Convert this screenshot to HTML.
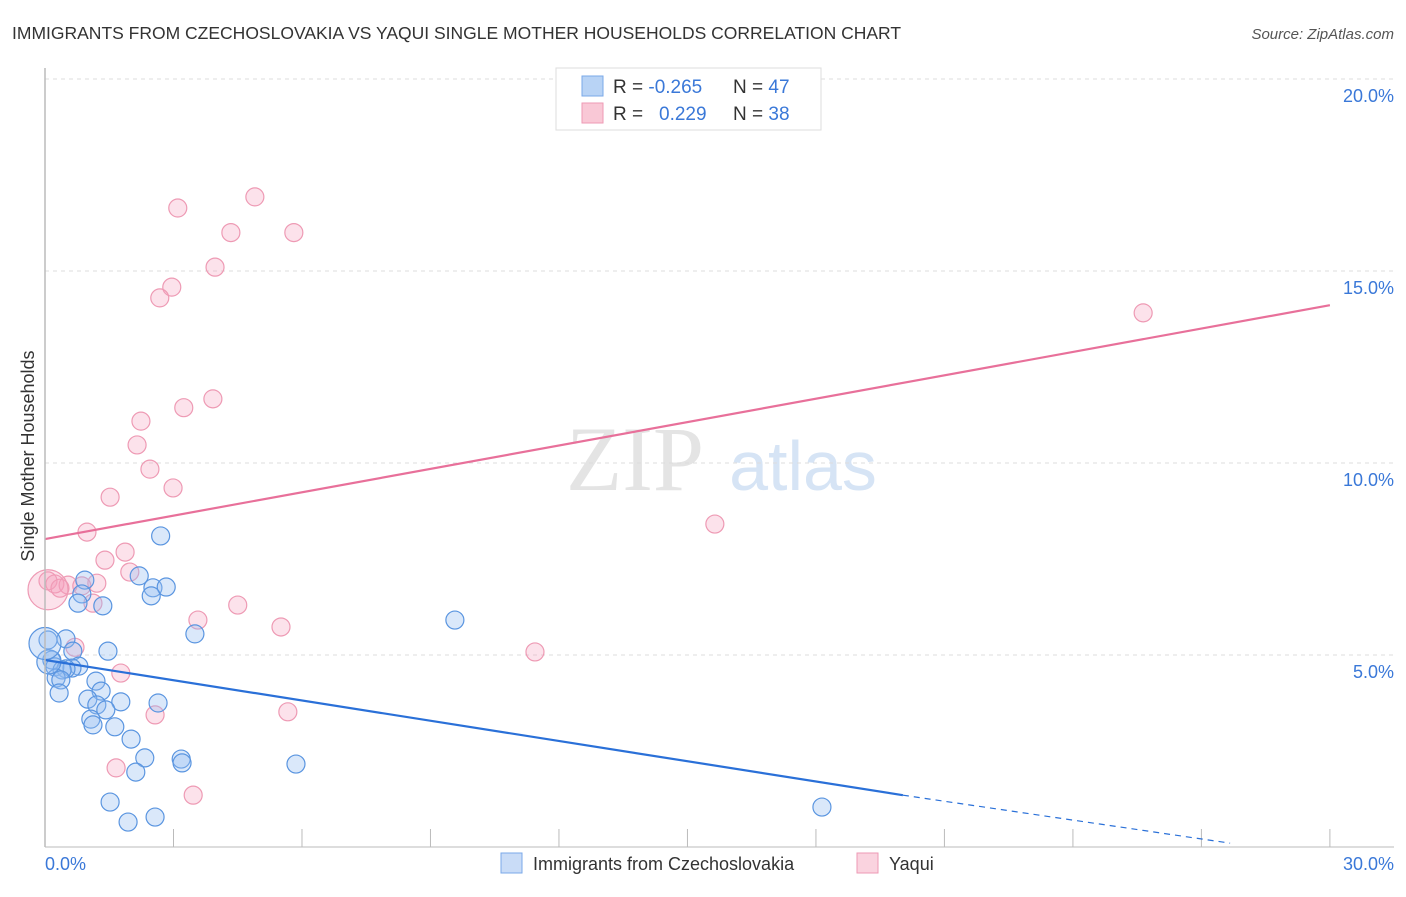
<!DOCTYPE html>
<html><head><meta charset="utf-8"><style>
body{margin:0;background:#fff;font-family:"Liberation Sans",sans-serif}
#wrap{position:relative;width:1406px;height:892px}
</style></head><body>
<div id="wrap">
<svg id="svg" width="1406" height="892">
<text x="12" y="39" font-size="17.5" fill="#333">IMMIGRANTS FROM CZECHOSLOVAKIA VS YAQUI SINGLE MOTHER HOUSEHOLDS CORRELATION CHART</text>
<text x="1394" y="39" font-size="15" fill="#555" font-style="italic" text-anchor="end">Source: ZipAtlas.com</text>
<text x="635" y="490" font-size="92" fill="#e4e4e4" font-family="Liberation Serif" text-anchor="middle">ZIP</text>
<text x="803" y="490" font-size="70" fill="#d6e4f5" text-anchor="middle">atlas</text>
<text transform="translate(34,456) rotate(-90)" font-size="18" fill="#333" text-anchor="middle">Single Mother Households</text>
<g id="grid"></g><g id="pts"></g><g id="lines"></g>
<line x1="45" y1="68" x2="45" y2="847" stroke="#bbb" stroke-width="1.5"/>
<line x1="45" y1="847" x2="1394" y2="847" stroke="#bbb" stroke-width="1"/>
<text x="45" y="870" font-size="18" fill="#3a78d8">0.0%</text>
<text x="1394" y="870" font-size="18" fill="#3a78d8" text-anchor="end">30.0%</text>
<g>
<rect x="556" y="68" width="265" height="62" fill="#fff" stroke="#ddd"/>
<rect x="582" y="76" width="21" height="20" fill="#b8d3f5" stroke="#7aa8e8"/>
<rect x="582" y="103" width="21" height="20" fill="#f9c8d6" stroke="#ee9ab4"/>
<text x="613" y="93" font-size="19" fill="#333">R = <tspan fill="#3a78d8">-0.265</tspan><tspan x="733">N = </tspan><tspan fill="#3a78d8">47</tspan></text>
<text x="613" y="120" font-size="19" fill="#333">R = <tspan x="659" fill="#3a78d8">0.229</tspan><tspan x="733">N = </tspan><tspan fill="#3a78d8">38</tspan></text>
</g>
<g>
<rect x="501" y="853" width="21" height="20" fill="#c9dcf7" stroke="#7aa8e8"/>
<text x="533" y="870" font-size="18" fill="#333">Immigrants from Czechoslovakia</text>
<rect x="857" y="853" width="21" height="20" fill="#fad3df" stroke="#ee9ab4"/>
<text x="889" y="870" font-size="18" fill="#333">Yaqui</text>
</g>
</svg></div>
<script>
const yTicks=[5,10,15,20];
const xTickMarks=[0,3,6,9,12,15,18,21,24,27,30];
const blueX=[2.7,2.2,0.93,2.52,2.83,2.48,0.86,0.77,1.35,9.57,3.5,0.07,0.49,1.47,0.65,0.16,0.23,0.79,0.63,0.49,0.4,0.26,0.37,1.19,1.31,0.33,1.0,1.77,2.64,1.21,1.42,1.07,1.12,1.63,2.01,2.33,3.18,3.2,5.86,2.12,1.52,18.14,1.94,2.57,0.09,0.0];
const blueY=[8.1,7.06,6.95,6.75,6.77,6.54,6.59,6.35,6.28,5.91,5.55,5.39,5.42,5.1,5.1,4.87,4.69,4.71,4.66,4.64,4.61,4.4,4.35,4.32,4.06,4.01,3.85,3.78,3.75,3.7,3.57,3.33,3.18,3.13,2.81,2.32,2.29,2.19,2.16,1.95,1.17,1.04,0.65,0.78,4.82,5.3];
const blueR=[9,9,9,9,9,9,9,9,9,9,9,9,9,9,9,9,9,9,9,9,9,9,9,9,9,9,9,9,9,9,9,9,9,9,9,9,9,9,9,9,9,9,9,9,12,16];
const pinkX=[4.9,3.1,4.34,5.81,3.97,2.96,2.68,25.64,3.92,3.24,2.24,2.15,2.45,2.99,1.52,15.64,0.98,1.87,1.4,1.98,0.07,0.23,0.54,1.21,0.86,0.35,1.12,4.5,3.57,5.51,0.7,11.44,1.77,2.57,5.67,1.66,3.46,0.07];
const pinkY=[16.93,16.64,16.0,16.0,15.1,14.58,14.3,13.91,11.67,11.44,11.09,10.47,9.84,9.35,9.11,8.41,8.2,7.68,7.47,7.16,6.93,6.85,6.82,6.87,6.8,6.74,6.35,6.3,5.91,5.73,5.2,5.08,4.53,3.44,3.52,2.06,1.35,6.7];
const pinkR=[9,9,9,9,9,9,9,9,9,9,9,9,9,9,9,9,9,9,9,9,9,9,9,9,9,9,9,9,9,9,9,9,9,9,9,9,9,20];
const pinkLine=[8.02,14.11];
const blueLine=[4.87,20.03,1.35,27.67,0.1];
const X=v=>45+v*42.83, Y=v=>847-v*38.4;
const NS="http://www.w3.org/2000/svg";
function mk(t,a,p){const e=document.createElementNS(NS,t);for(const k in a)e.setAttribute(k,a[k]);p.appendChild(e);return e;}
const grid=document.getElementById('grid');
yTicks.forEach(t=>{
 const l=mk('line',{x1:45,x2:1394,y1:Y(t),y2:Y(t),stroke:'#ddd','stroke-dasharray':'4,4'},grid);
 
 
 const tx=mk('text',{x:1394,y:Y(t)+23,'font-size':18,fill:'#3a78d8','text-anchor':'end'},grid);
 tx.textContent=t.toFixed(1)+'%';
 
 
});
xTickMarks.forEach(t=>{
 const l=mk('line',{x1:X(t),x2:X(t),y1:829,y2:847,stroke:'#bbb'},grid);
 
 
});
const pts=document.getElementById('pts');
pinkX.forEach((v,i)=>{
 const c=mk('circle',{cx:X(v),cy:Y(pinkY[i]),r:pinkR[i],fill:'rgba(244,160,188,0.3)',stroke:'#ee9ab4','stroke-width':1.2},pts);
 
 
});
blueX.forEach((v,i)=>{
 const c=mk('circle',{cx:X(v),cy:Y(blueY[i]),r:blueR[i],fill:'rgba(150,190,240,0.35)',stroke:'#5a95e0','stroke-width':1.2},pts);
 
 
});
const lines=document.getElementById('lines');
let l1=mk('line',{x1:X(0),y1:Y(pinkLine[0]),x2:X(30),y2:Y(pinkLine[1]),stroke:'#e8709a','stroke-width':2.2},lines);


let l2=mk('line',{x1:X(0),y1:Y(blueLine[0]),x2:X(blueLine[1]),y2:Y(blueLine[2]),stroke:'#2a70d8','stroke-width':2.2},lines);


let l3=mk('line',{x1:X(blueLine[1]),y1:Y(blueLine[2]),x2:X(blueLine[3]),y2:Y(blueLine[4]),stroke:'#2a70d8','stroke-width':1.2,'stroke-dasharray':'6,5'},lines);


</script>
</body></html>
